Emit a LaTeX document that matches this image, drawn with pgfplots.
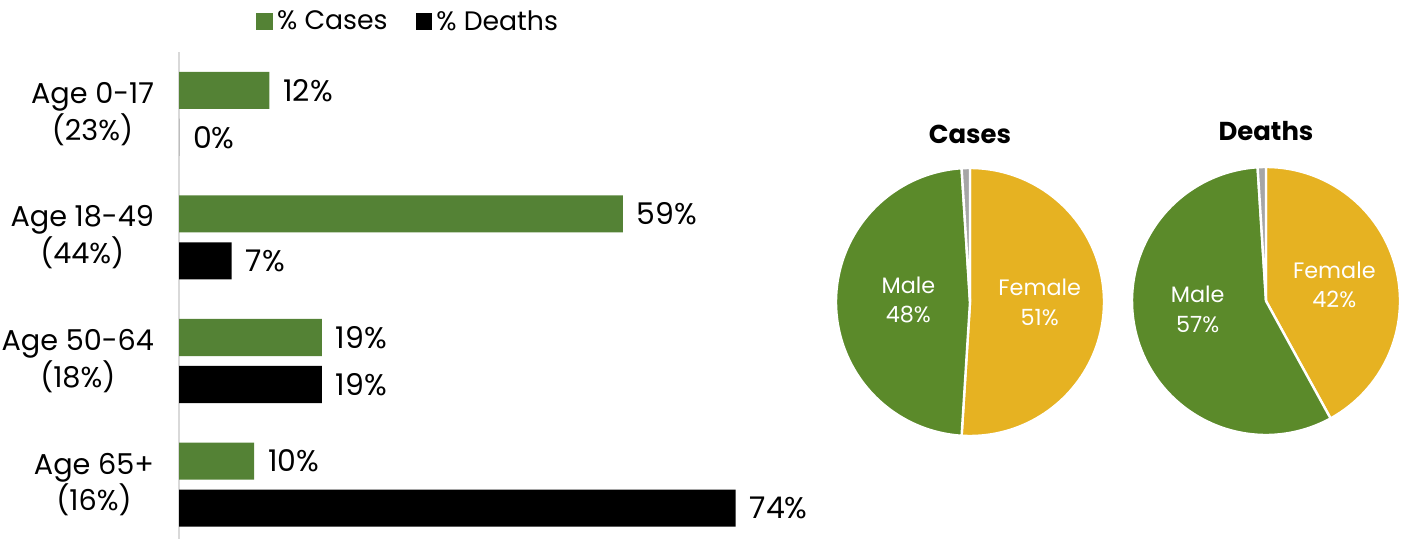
\documentclass[border=0pt]{standalone}
\usepackage{pgfplots}
\pgfplotsset{compat=1.18}
\usepackage{fontspec}
\setmainfont{Poppins}
\definecolor{bargreen}{HTML}{548235}
\definecolor{piegreen}{HTML}{5B8A2A}
\definecolor{pieyellow}{HTML}{E6B222}
\definecolor{piegray}{HTML}{A6A6A6}
\definecolor{axisgray}{HTML}{D9D9D9}
\begin{document}
\begin{tikzpicture}
\useasboundingbox (0,0) rectangle (700.5bp,269.5bp);
% ---------------- bar chart ----------------
\begin{axis}[
  at={(89.5bp,243.5bp)}, anchor=north west,
  width=338.5bp, height=243.5bp, scale only axis,
  xbar, bar width=0.3,
  xmin=0, xmax=90,
  ymin=-0.5, ymax=3.44, y dir=reverse,
  axis x line=none,
  axis y line*=left,
  y axis line style={-, draw=axisgray, line width=0.8bp},
  ytick={0,1,2,3},
  yticklabels={{Age 0-17\\(23\%)},{Age 18-49\\(44\%)},{Age 50-64\\(18\%)},{Age 65+\\(16\%)}},
  yticklabel style={align=center, font=\fontsize{14.4}{18.5}\selectfont, xshift=-9bp},
  major tick length=0pt,
  point meta=x,
  /pgf/number format/assume math mode=true,
  nodes near coords={\pgfmathprintnumber{\pgfplotspointmeta}\%},
  every node near coord/.append style={font=\fontsize{15}{17}\selectfont, anchor=west, xshift=3.5bp, text=black},
  legend style={at={(0.34,1.062)}, anchor=center, draw=none, fill=none,
    legend columns=2, font=\fontsize{13.4}{15}\selectfont,
    /tikz/every even column/.append style={column sep=12bp}},
  legend image code/.code={\fill[#1] (0bp,-4.2bp) rectangle (8.4bp,4.2bp);},
]
\addplot[fill=bargreen, draw=none, bar shift=-0.19] coordinates {(12,0) (59,1) (19,2) (10,3)};
\addlegendentry{\% Cases}
\addplot[fill=black, draw=none, bar shift=0.19] coordinates {(0,0) (7,1) (19,2) (74,3)};
\addlegendentry{\% Deaths}
\end{axis}
% ---------------- Cases pie: Female 51, Male 48, Other 1 ----------------
\begin{axis}[
  at={(485bp,118.5bp)}, anchor=center,
  width=134bp, height=134bp, scale only axis,
  xmin=-1, xmax=1, ymin=-1, ymax=1, hide axis, clip=false,
  title={Cases},
  title style={font=\bfseries\fontsize{13}{16}\selectfont, at={(0.5,1)}, anchor=center, yshift=11bp},
]
\addplot[fill=pieyellow, draw=white, line width=1.2bp, domain=0:183.6, samples=90] ({sin(x)},{cos(x)}) -- (axis cs:0,0) -- cycle;
\addplot[fill=piegreen, draw=white, line width=1.2bp, domain=183.6:356.4, samples=90] ({sin(x)},{cos(x)}) -- (axis cs:0,0) -- cycle;
\addplot[fill=piegray, draw=white, line width=1.2bp, domain=356.4:360, samples=5] ({sin(x)},{cos(x)}) -- (axis cs:0,0) -- cycle;
\node[text=white, align=center, font=\fontsize{11.2}{15}\selectfont] at (axis cs:0.52,0) {Female\\51\%};
\node[text=white, align=center, font=\fontsize{11.2}{15}\selectfont] at (axis cs:-0.46,0.015) {Male\\48\%};
\end{axis}
% ---------------- Deaths pie: Female 42, Male 57, Other 1 ----------------
\begin{axis}[
  at={(633bp,119bp)}, anchor=center,
  width=134bp, height=134bp, scale only axis,
  xmin=-1, xmax=1, ymin=-1, ymax=1, hide axis, clip=false,
  title={Deaths},
  title style={font=\bfseries\fontsize{13}{16}\selectfont, at={(0.5,1)}, anchor=center, yshift=12bp},
]
\addplot[fill=pieyellow, draw=white, line width=1.2bp, domain=0:151.2, samples=90] ({sin(x)},{cos(x)}) -- (axis cs:0,0) -- cycle;
\addplot[fill=piegreen, draw=white, line width=1.2bp, domain=151.2:356.4, samples=90] ({sin(x)},{cos(x)}) -- (axis cs:0,0) -- cycle;
\addplot[fill=piegray, draw=white, line width=1.2bp, domain=356.4:360, samples=5] ({sin(x)},{cos(x)}) -- (axis cs:0,0) -- cycle;
\node[text=white, align=center, font=\fontsize{11.2}{15}\selectfont] at (axis cs:0.51,0.12) {Female\\42\%};
\node[text=white, align=center, font=\fontsize{11.2}{15}\selectfont] at (axis cs:-0.51,-0.06) {Male\\57\%};
\end{axis}
\end{tikzpicture}
\end{document}
